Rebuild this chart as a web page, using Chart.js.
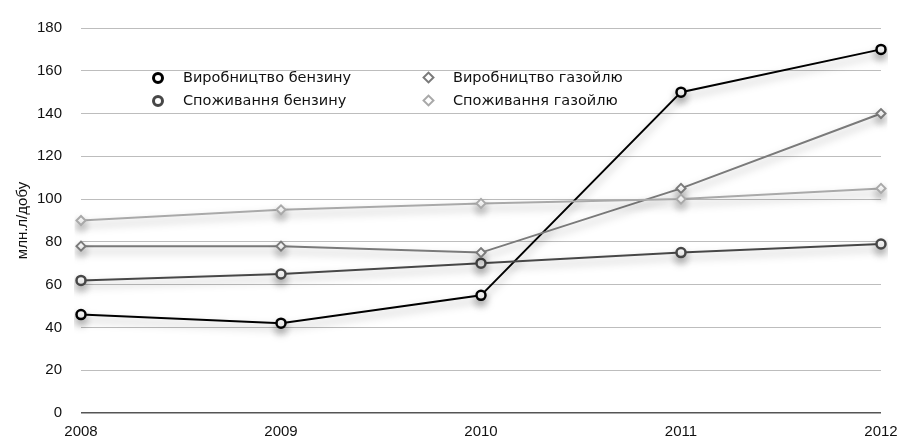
<!DOCTYPE html>
<html>
<head>
<meta charset="utf-8">
<script src="https://cdn.jsdelivr.net/npm/chart.js@4/dist/chart.umd.min.js"></script>
<style>
  body { margin: 0; background: #fff; }
  #wrap { position: relative; width: 901px; height: 441px; }
  #legend { position: absolute; left: 152px; top: 67px; font-family: "DejaVu Sans", sans-serif; font-size: 14.5px; color: #111; }
  .item { position: absolute; white-space: nowrap; height: 20px; line-height: 20px; }
  .mk { position: absolute; left: 0; top: 5px; width: 6px; height: 6px; background: #fff; }
  .mk.circle { border-radius: 50%; border: 3.5px solid #000; }
  .mk.diamond { transform: rotate(45deg); border: 2.5px solid #000; width: 5px; height: 5px; top: 6px; left: 2px; }
  .item span { position: absolute; left: 31px; }
</style>
</head>
<body>
<div id="wrap">
  <canvas id="c" width="901" height="441"></canvas>
  <div id="legend"></div>
</div>
<script>
// Production and consumption of petrol / gasoil, mln l per day
const years = ['2008', '2009', '2010', '2011', '2012'];
const petrolProduction = [46, 42, 55, 150, 170];
const petrolConsumption = [62, 65, 70, 75, 79];
const gasoilProduction = [78, 78, 75, 105, 140];
const gasoilConsumption = [90, 95, 98, 100, 105];
const seriesNames = ['Виробництво бензину', 'Споживання бензину', 'Виробництво газойлю', 'Споживання газойлю'];
const yTicks = [0, 20, 40, 60, 80, 100, 120, 140, 160, 180];
const yTitle = 'млн.л/добу';

const colors = ['#000000', '#474747', '#7a7a7a', '#a9a9a9'];
const styles = ['circle', 'circle', 'rectRot', 'rectRot'];
const seriesData = [petrolProduction, petrolConsumption, gasoilProduction, gasoilConsumption];

// soft drop shadow under each line like the original
const shadowPlugin = {
    id: 'shadow',
    beforeDatasetDraw(chart) {
        const ctx = chart.ctx;
        ctx.save();
        ctx.shadowColor = 'rgba(0,0,0,0.35)';
        ctx.shadowBlur = 8;
        ctx.shadowOffsetY = 5;
    },
    afterDatasetDraw(chart) {
        chart.ctx.restore();
    }
};

const datasets = seriesData.map((d, i) => ({
    label: seriesNames[i],
    data: d,
    borderColor: colors[i],
    backgroundColor: '#ffffff',
    borderWidth: 2,
    pointStyle: styles[i],
    pointRadius: 4.5,
    pointBorderWidth: styles[i] === 'circle' ? 2.5 : 2,
    pointBackgroundColor: '#ffffff',
    pointBorderColor: colors[i],
    tension: 0,
    order: 4 - i
}));

new Chart(document.getElementById('c').getContext('2d'), {
    type: 'line',
    data: { labels: years, datasets: datasets },
    plugins: [shadowPlugin],
    options: {
        responsive: false,
        animation: false,
        layout: { padding: { top: 22, right: 20, left: 0, bottom: 0 } },
        plugins: { legend: { display: false }, tooltip: { enabled: false } },
        scales: {
            x: {
                offset: false,
                grid: { display: false, drawTicks: false },
                border: { display: false },
                ticks: { color: '#111', padding: 10, font: { family: 'Liberation Sans', size: 15 }, maxRotation: 0 },
                afterFit(s) { s.height = 26; s.paddingLeft = 0; s.paddingRight = 0; }
            },
            y: {
                min: 0,
                max: 180,
                afterBuildTicks(s) { s.ticks = yTicks.map(v => ({ value: v })); },
                grid: {
                    drawTicks: false,
                    color: ctx => ctx.tick && ctx.tick.value === 0 ? '#555555' : '#bdbdbd',
                    lineWidth: ctx => ctx.tick && ctx.tick.value === 0 ? 1.5 : 1
                },
                border: { display: false },
                ticks: { color: '#111', padding: 19, font: { family: 'Liberation Sans', size: 15 } },
                title: { display: true, text: yTitle, color: '#111', font: { family: 'Liberation Sans', size: 15 }, padding: { top: 14, bottom: 0 } },
                afterFit(s) { s.width = 81; }
            }
        }
    }
});

// legend laid out in two columns inside the plot like the original
const legend = document.getElementById('legend');
const pos = [[0, 0], [0, 23], [270, 0], [270, 23]];
seriesNames.forEach((name, i) => {
    const it = document.createElement('div');
    it.className = 'item';
    it.style.left = pos[i][0] + 'px';
    it.style.top = pos[i][1] + 'px';
    const mk = document.createElement('div');
    mk.className = 'mk ' + (styles[i] === 'circle' ? 'circle' : 'diamond');
    mk.style.borderColor = colors[i];
    const sp = document.createElement('span');
    sp.textContent = name;
    it.appendChild(mk);
    it.appendChild(sp);
    legend.appendChild(it);
});
</script>
</body>
</html>
